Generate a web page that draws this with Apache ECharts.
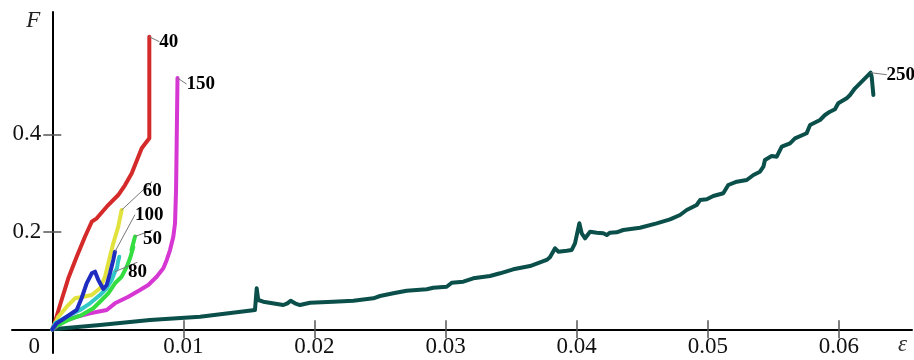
<!DOCTYPE html>
<html><head><meta charset="utf-8">
<script src="https://cdn.jsdelivr.net/npm/echarts@6/dist/echarts.min.js"></script>
<style>html,body{margin:0;padding:0;background:#fff}#c{width:914px;height:360px}</style>
</head><body><div id="c"></div>
<script>
// ---- data (strain eps, force F) ----
const epsTicks = [0.01, 0.02, 0.03, 0.04, 0.05, 0.06];
const epsLabels = [0, 0.01, 0.02, 0.03, 0.04, 0.05, 0.06];
const fTicks = [0.2, 0.4];

const eps40 = [0, 0.00021, 0.00059, 0.00122, 0.00186, 0.00249, 0.00301, 0.00339, 0.00415, 0.00503, 0.00555, 0.00606, 0.00682, 0.00740, 0.00740];
const F40   = [0, 0.0156, 0.0498, 0.1046, 0.1489, 0.1899, 0.2207, 0.2277, 0.2515, 0.2755, 0.2960, 0.3200, 0.3713, 0.3918, 0.6002];

const eps150 = [0, 0.00084, 0.00186, 0.00288, 0.00415, 0.00478, 0.00580, 0.00669, 0.00732, 0.00796, 0.00847, 0.00873, 0.00898, 0.00923, 0.00936, 0.00944, 0.00949, 0.00955];
const F150   = [0, 0.0156, 0.0258, 0.0328, 0.0396, 0.0533, 0.0669, 0.0806, 0.0909, 0.1079, 0.1251, 0.1422, 0.1626, 0.1900, 0.2174, 0.2857, 0.3883, 0.5155];

const eps60 = [0, 0.00046, 0.00110, 0.00173, 0.00236, 0.00301, 0.00364, 0.00402, 0.00427, 0.00465, 0.00503, 0.00529];
const F60   = [0, 0.0258, 0.0464, 0.0636, 0.0669, 0.0704, 0.0841, 0.1079, 0.1354, 0.1764, 0.2105, 0.2447];

const eps100 = [0, 0.00034, 0.00110, 0.00186, 0.00224, 0.00262, 0.00301, 0.00326, 0.00351, 0.00389, 0.00415, 0.00440, 0.00465, 0.00478];
const F100   = [0, 0.0123, 0.0258, 0.0396, 0.0642, 0.0944, 0.1149, 0.1182, 0.1011, 0.0827, 0.0909, 0.1149, 0.1422, 0.1592];

const eps50 = [0, 0.00021, 0.00122, 0.00224, 0.00313, 0.00377, 0.00427, 0.00478, 0.00529, 0.00568, 0.00593, 0.00618, 0.00604, 0.00631];
const F50   = [0, 0.0053, 0.0191, 0.0293, 0.0431, 0.0601, 0.0738, 0.0944, 0.1079, 0.1284, 0.1456, 0.1688, 0.1626, 0.1904];

const eps80 = [0, 0.00021, 0.00110, 0.00211, 0.00288, 0.00364, 0.00415, 0.00453, 0.00478, 0.00494, 0.00501, 0.00511];
const F80   = [0, 0.0123, 0.0258, 0.0396, 0.0533, 0.0704, 0.0841, 0.1011, 0.1182, 0.1257, 0.1381, 0.1489];

const eps250 = [0, 0.00364, 0.00745, 0.01127, 0.01546, 0.01559, 0.01571, 0.01609, 0.01762, 0.01793, 0.01818, 0.01851, 0.01889, 0.01966, 0.02143, 0.02296, 0.02449, 0.02500, 0.02601, 0.02703, 0.02856, 0.02906, 0.03008, 0.03047, 0.03135, 0.03211, 0.03339, 0.03415, 0.03516, 0.03644, 0.03771, 0.03796, 0.03835, 0.03860, 0.03924, 0.03962, 0.03987, 0.04020, 0.04038, 0.04064, 0.04102, 0.04153, 0.04203, 0.04229, 0.04254, 0.04305, 0.04355, 0.04483, 0.04610, 0.04712, 0.04788, 0.04839, 0.04915, 0.04941, 0.04992, 0.05042, 0.05118, 0.05156, 0.05221, 0.05297, 0.05348, 0.05398, 0.05424, 0.05436, 0.05487, 0.05526, 0.05564, 0.05627, 0.05665, 0.05754, 0.05780, 0.05856, 0.05894, 0.05932, 0.05970, 0.05995, 0.06059, 0.06085, 0.06123, 0.06161, 0.06212, 0.06242, 0.06250, 0.06263];
const F250   = [0, 0.0088, 0.0191, 0.0258, 0.0396, 0.0841, 0.0601, 0.0566, 0.0498, 0.0533, 0.0587, 0.0533, 0.0498, 0.0546, 0.0566, 0.0587, 0.0636, 0.0683, 0.0738, 0.0792, 0.0821, 0.0853, 0.0874, 0.0956, 0.0976, 0.1046, 0.1093, 0.1149, 0.1231, 0.1298, 0.1422, 0.1477, 0.1662, 0.1592, 0.1612, 0.1627, 0.1764, 0.2174, 0.1969, 0.1867, 0.2002, 0.1982, 0.1969, 0.1934, 0.1982, 0.1990, 0.2037, 0.2084, 0.2174, 0.2256, 0.2345, 0.2447, 0.2550, 0.2652, 0.2667, 0.2734, 0.2790, 0.2960, 0.3028, 0.3063, 0.3165, 0.3233, 0.3335, 0.3473, 0.3555, 0.3541, 0.3746, 0.3815, 0.3918, 0.4021, 0.4191, 0.4293, 0.4396, 0.4464, 0.4513, 0.4636, 0.4738, 0.4806, 0.4944, 0.5046, 0.5182, 0.5264, 0.5182, 0.4806];

// ---- styling / layout ----
const xMin = -0.003074, xMax = 0.065576;
const yMin = -0.0486, yMax = 0.6509;
const gridL = 12, gridR = 2, gridT = 12, gridB = 7, W = 914, H = 360;
// axis lines sit at the zero of the other axis
const yAxisOffset = -(W - gridL - gridR) * (0 - xMin) / (xMax - xMin);
const xAxisOffset = -(H - gridT - gridB) * (0 - yMin) / (yMax - yMin);
const serif = 'Liberation Serif';

function curve(name, xs, ys, color, labelIdx, lab, z) {
  return {
    type: 'line', name: name, z: z,
    xAxisIndex: 0, yAxisIndex: 0,
    data: xs.map((x, i) => i === labelIdx
      ? { value: [x, ys[i]], label: { show: true, formatter: name, position: 'right', distance: lab.d } }
      : { value: [x, ys[i]] }),
    showSymbol: true, symbol: 'circle', symbolSize: 0,
    itemStyle: { color: color },
    lineStyle: { color: color, width: 4, join: 'round', cap: 'round' },
    label: { show: false, fontFamily: serif, fontWeight: 'bold', fontSize: 19, color: '#000' },
    labelLine: { show: true, lineStyle: { color: '#777', width: 1 } },
    labelLayout: { dx: lab.dx || 0, dy: lab.dy || 0 },
    emphasis: { disabled: true },
    animation: false
  };
}

const tickStyle = { color: '#555', width: 1.5 };
const chart = echarts.init(document.getElementById('c'), null, { renderer: 'canvas' });
chart.setOption({
  backgroundColor: '#fff',
  animation: false,
  grid: { left: gridL, right: gridR, top: gridT, bottom: gridB, containLabel: false, outerBoundsMode: 'none' },
  xAxis: [
    {
      type: 'value', min: xMin, max: xMax, position: 'bottom', offset: xAxisOffset,
      axisLine: { onZero: false, lineStyle: { color: '#000', width: 2 } },
      axisTick: { show: true, inside: true, length: 9, customValues: epsTicks, lineStyle: tickStyle },
      axisLabel: {
        customValues: epsLabels, margin: 6, fontFamily: serif, fontSize: 23, color: '#111',
        formatter: v => v === 0 ? '{o|0}' : String(v),
        rich: { o: { fontFamily: serif, fontSize: 23, color: '#111', padding: [0, 36, 0, 0] } }
      },
      splitLine: { show: false },
      name: 'ε', nameLocation: 'end', nameGap: -5,
      nameTextStyle: { fontFamily: serif, fontStyle: 'italic', fontSize: 23, color: '#333', align: 'right', verticalAlign: 'top', padding: [4, 0, 0, 0] }
    },
    {
      type: 'value', min: xMin, max: xMax, position: 'bottom', offset: xAxisOffset,
      axisLine: { show: false, onZero: false },
      axisTick: { show: true, inside: false, length: 9, customValues: epsTicks, lineStyle: tickStyle },
      axisLabel: { show: false }, splitLine: { show: false }
    }
  ],
  yAxis: [
    {
      type: 'value', min: yMin, max: yMax, position: 'left', offset: yAxisOffset,
      axisLine: { onZero: false, lineStyle: { color: '#000', width: 2 } },
      axisTick: { show: true, inside: true, length: 9, customValues: fTicks, lineStyle: tickStyle },
      axisLabel: { customValues: fTicks, margin: 11, fontFamily: serif, fontSize: 23, color: '#111', formatter: v => String(v) },
      splitLine: { show: false },
      name: 'F', nameLocation: 'end', nameGap: 3,
      nameTextStyle: { fontFamily: serif, fontStyle: 'italic', fontSize: 23, color: '#222', align: 'right', verticalAlign: 'top', padding: [0, 12, 0, 0] }
    },
    {
      type: 'value', min: yMin, max: yMax, position: 'left', offset: yAxisOffset,
      axisLine: { show: false, onZero: false },
      axisTick: { show: true, inside: false, length: 9, customValues: fTicks, lineStyle: tickStyle },
      axisLabel: { show: false }, splitLine: { show: false }
    }
  ],
  series: [
    curve('250', eps250, F250, '#0b4f4b', eps250.length - 3, { d: 16, dy: 2 }, 2),
    curve('150', eps150, F150, '#d636d2', eps150.length - 1, { d: 9, dy: 6 }, 3),
    curve('40', eps40, F40, '#d52a2a', eps40.length - 1, { d: 10, dy: 5 }, 4),
    curve('60', eps60, F60, '#e2e23e', eps60.length - 1, { d: 5, dx: 16, dy: -19 }, 5),
    curve('50', eps50, F50, '#34dd40', eps50.length - 1, { d: 8, dy: 3 }, 6),
    curve('80', eps80, F80, '#33c8c8', 8, { d: 13, dy: 0 }, 7),
    curve('100', eps100, F100, '#1f2cc0', eps100.length - 1, { d: 5, dx: 15, dy: -37 }, 8)
  ]
});
</script></body></html>
